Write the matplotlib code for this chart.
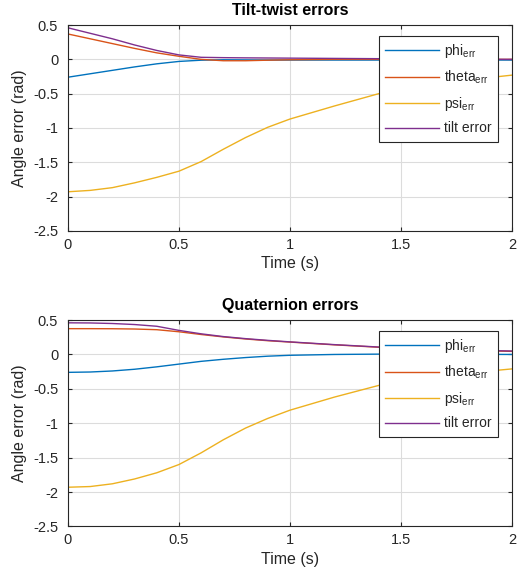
import numpy as np
import matplotlib
matplotlib.use("Agg")
import matplotlib.pyplot as plt

plt.rcParams["font.family"] = "Liberation Sans"
plt.rcParams["mathtext.fontset"] = "custom"
plt.rcParams["mathtext.rm"] = "Liberation Sans"

# Data
t = [0, 0.1, 0.2, 0.3, 0.4, 0.5, 0.6, 0.7, 0.8, 0.9, 1.0, 1.2, 1.4, 1.6, 1.8, 2.0]

tt_phi = [-0.26, -0.21, -0.16, -0.11, -0.065, -0.03, -0.012, -0.006, -0.008, -0.01, -0.01, -0.01, -0.01, -0.01, -0.01, -0.01]
tt_theta = [0.37, 0.30, 0.23, 0.16, 0.095, 0.045, 0.0, -0.02, -0.02, -0.012, -0.006, 0.0, 0.0, 0.0, 0.0, 0.0]
tt_psi = [-1.93, -1.91, -1.87, -1.80, -1.72, -1.63, -1.49, -1.31, -1.14, -0.99, -0.87, -0.68, -0.50, -0.39, -0.30, -0.23]
tt_tilt = [0.46, 0.38, 0.30, 0.21, 0.13, 0.065, 0.03, 0.025, 0.022, 0.02, 0.018, 0.014, 0.01, 0.006, 0.003, 0.0]

q_phi = [-0.26, -0.255, -0.24, -0.215, -0.18, -0.14, -0.10, -0.07, -0.045, -0.025, -0.012, 0.0, 0.005, 0.005, 0.003, 0.0]
q_theta = [0.375, 0.375, 0.374, 0.37, 0.36, 0.33, 0.29, 0.255, 0.225, 0.20, 0.18, 0.14, 0.105, 0.08, 0.06, 0.045]
q_psi = [-1.93, -1.92, -1.88, -1.81, -1.72, -1.60, -1.43, -1.24, -1.07, -0.93, -0.81, -0.62, -0.45, -0.35, -0.27, -0.21]
q_tilt = [0.46, 0.458, 0.45, 0.435, 0.41, 0.35, 0.30, 0.26, 0.23, 0.205, 0.183, 0.143, 0.108, 0.083, 0.063, 0.05]

labels = [r"phi$_{\mathrm{err}}$", r"theta$_{\mathrm{err}}$", r"psi$_{\mathrm{err}}$", "tilt error"]
colours = ["#0072BD", "#D95319", "#EDB120", "#7E2F8E"]
titles = ["Tilt-twist errors", "Quaternion errors"]
xticks = [0, 0.5, 1, 1.5, 2]
yticks = [-2.5, -2, -1.5, -1, -0.5, 0, 0.5]

fig = plt.figure(figsize=(5.31, 5.83), dpi=100)
ax_top = fig.add_axes([0.128, 0.604, 0.836, 0.353])
ax_bot = fig.add_axes([0.128, 0.097, 0.836, 0.354])

datasets = [[tt_phi, tt_theta, tt_psi, tt_tilt], [q_phi, q_theta, q_psi, q_tilt]]
dark = "#262626"
for ax, series, title in zip([ax_top, ax_bot], datasets, titles):
    for s, c, lab in zip(series, colours, labels):
        ax.plot(t, s, color=c, lw=1.0, label=lab)
    ax.set_xlim(0, 2)
    ax.set_ylim(-2.5, 0.5)
    ax.set_xticks(xticks)
    ax.set_xticklabels(["0", "0.5", "1", "1.5", "2"])
    ax.set_yticks(yticks)
    ax.set_yticklabels(["-2.5", "-2", "-1.5", "-1", "-0.5", "0", "0.5"])
    ax.grid(True, color="#dcdcdc", lw=0.8)
    ax.set_axisbelow(True)
    ax.tick_params(direction="in", top=True, right=True, length=3, labelsize=10.5,
                   colors=dark)
    ax.tick_params(axis="x", pad=5)
    ax.tick_params(axis="y", pad=7)
    for sp in ax.spines.values():
        sp.set_color(dark)
        sp.set_linewidth(0.8)
    ax.set_xlabel("Time (s)", fontsize=11.5, color=dark, labelpad=3)
    ax.set_ylabel("Angle error (rad)", fontsize=11.5, color=dark, labelpad=4)
    ax.set_title(title, fontsize=11.5, fontweight="bold", color="black", pad=7)
    leg = ax.legend(loc="upper right", bbox_to_anchor=(0.968, 0.947), borderaxespad=0,
                    fontsize=10, fancybox=False, framealpha=1, edgecolor=dark,
                    handlelength=3.9, handletextpad=0.35, borderpad=0.45, labelspacing=0.62)
    leg.get_frame().set_linewidth(0.8)
    for txt in leg.get_texts():
        txt.set_color(dark)

fig.savefig("out.png", dpi=100)
